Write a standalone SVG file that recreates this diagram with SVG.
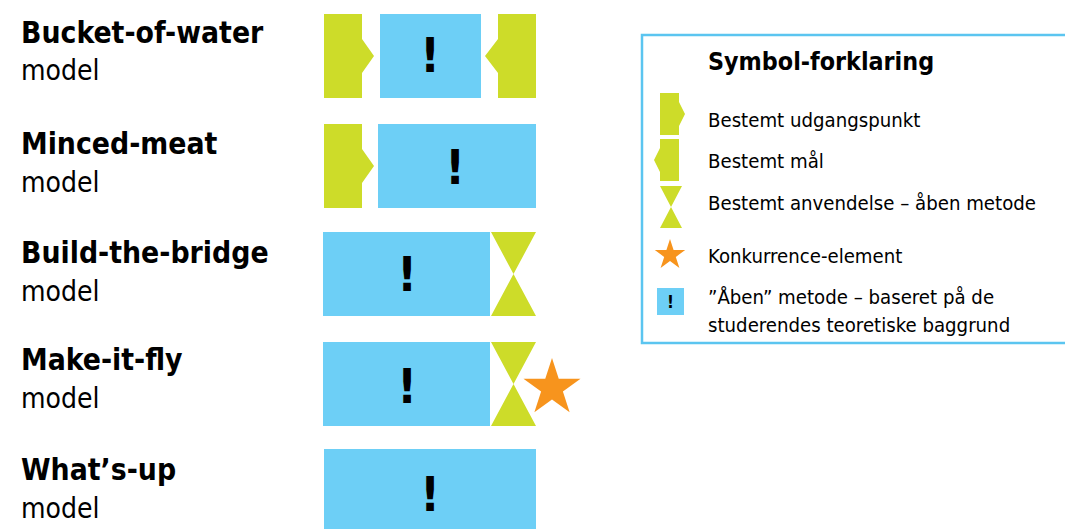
<svg xmlns="http://www.w3.org/2000/svg" xmlns:xlink="http://www.w3.org/1999/xlink" width="1065" height="529" viewBox="0 0 1065 529">
<defs>
<style>
.t{font-family:"DejaVu Sans Condensed","DejaVu Sans",sans-serif;fill:#000}
.h{font-size:29.8px;font-weight:bold}
.m{font-size:28px}
.lg{font-size:20.2px}
.lt{font-size:24.8px;font-weight:bold}
.ex{font-family:"DejaVu Sans Condensed","DejaVu Sans",sans-serif;font-weight:bold;font-size:48px;text-anchor:middle;fill:#000}
.g{fill:#cddc29}
.b{fill:#6dcff6}
.s{fill:#f7941d}
</style>
<path id="star" d="M0,-1 L0.2245,-0.309 L0.951,-0.309 L0.3633,0.118 L0.5878,0.809 L0,0.382 L-0.5878,0.809 L-0.3633,0.118 L-0.951,-0.309 L-0.2245,-0.309 Z"/>
</defs>
<rect width="1065" height="529" fill="#fff"/>

<g id="row-bucket">
<text class="t h" x="21" y="43">Bucket-of-water</text>
<text class="t m" x="21" y="80">model</text>
<path class="g" d="M324,14 H362 V39 L374,56 L362,73 V98 H324 Z"/>
<rect class="b" x="380" y="14" width="101" height="84"/>
<text class="ex" x="430" y="72">!</text>
<path class="g" d="M536,14 H498 V39 L485,56 L498,73 V98 H536 Z"/>
</g>

<g id="row-minced">
<text class="t h" x="21" y="154">Minced-meat</text>
<text class="t m" x="21" y="192">model</text>
<path class="g" d="M324,124 H362 V149 L374,166 L362,183 V208 H324 Z"/>
<rect class="b" x="378" y="124" width="158" height="84"/>
<text class="ex" x="455" y="184">!</text>
</g>

<g id="row-bridge">
<text class="t h" x="21" y="263">Build-the-bridge</text>
<text class="t m" x="21" y="301">model</text>
<rect class="b" x="323" y="232" width="167" height="84"/>
<text class="ex" x="407" y="291">!</text>
<path class="g" d="M491,232 H536 L513.5,274 Z M513.5,274 L536,316 H491 Z"/>
</g>

<g id="row-fly">
<text class="t h" x="21" y="370">Make-it-fly</text>
<text class="t m" x="21" y="408">model</text>
<rect class="b" x="323" y="342" width="167" height="84"/>
<text class="ex" x="407" y="403">!</text>
<path class="g" d="M491,342 H536 L513.5,384 Z M513.5,384 L536,426 H491 Z"/>
<use xlink:href="#star" class="s" transform="translate(552,388) scale(30)"/>
</g>

<g id="row-whatsup">
<text class="t h" x="21" y="480">What’s-up</text>
<text class="t m" x="21" y="518">model</text>
<rect class="b" x="324" y="449" width="212" height="80"/>
<text class="ex" x="430" y="511">!</text>
</g>

<g id="legend">
<rect x="642" y="35" width="432" height="308" fill="#fff" stroke="#5bc5f0" stroke-width="2.5"/>
<text class="t lt" x="708" y="70">Symbol-forklaring</text>
<path class="g" d="M660,93 H679 V102 L685,114 L679,126 V135 H660 Z"/>
<text class="t lg" x="708" y="127">Bestemt udgangspunkt</text>
<path class="g" d="M679,139 H660 V148 L654,160 L660,172 V181 H679 Z"/>
<text class="t lg" x="708" y="168">Bestemt mål</text>
<path class="g" d="M660,186 H682 L671,207 Z M671,207 L682,228 H660 Z"/>
<text class="t lg" x="708" y="210">Bestemt anvendelse – åben metode</text>
<use xlink:href="#star" class="s" transform="translate(670,255) scale(16)"/>
<text class="t lg" x="708" y="263">Konkurrence-element</text>
<rect class="b" x="657" y="288" width="27" height="27"/>
<text class="ex" x="670.5" y="308" style="font-size:17px">!</text>
<text class="t lg" x="708" y="304">”Åben” metode – baseret på de</text>
<text class="t lg" x="708" y="332">studerendes teoretiske baggrund</text>
</g>
</svg>
